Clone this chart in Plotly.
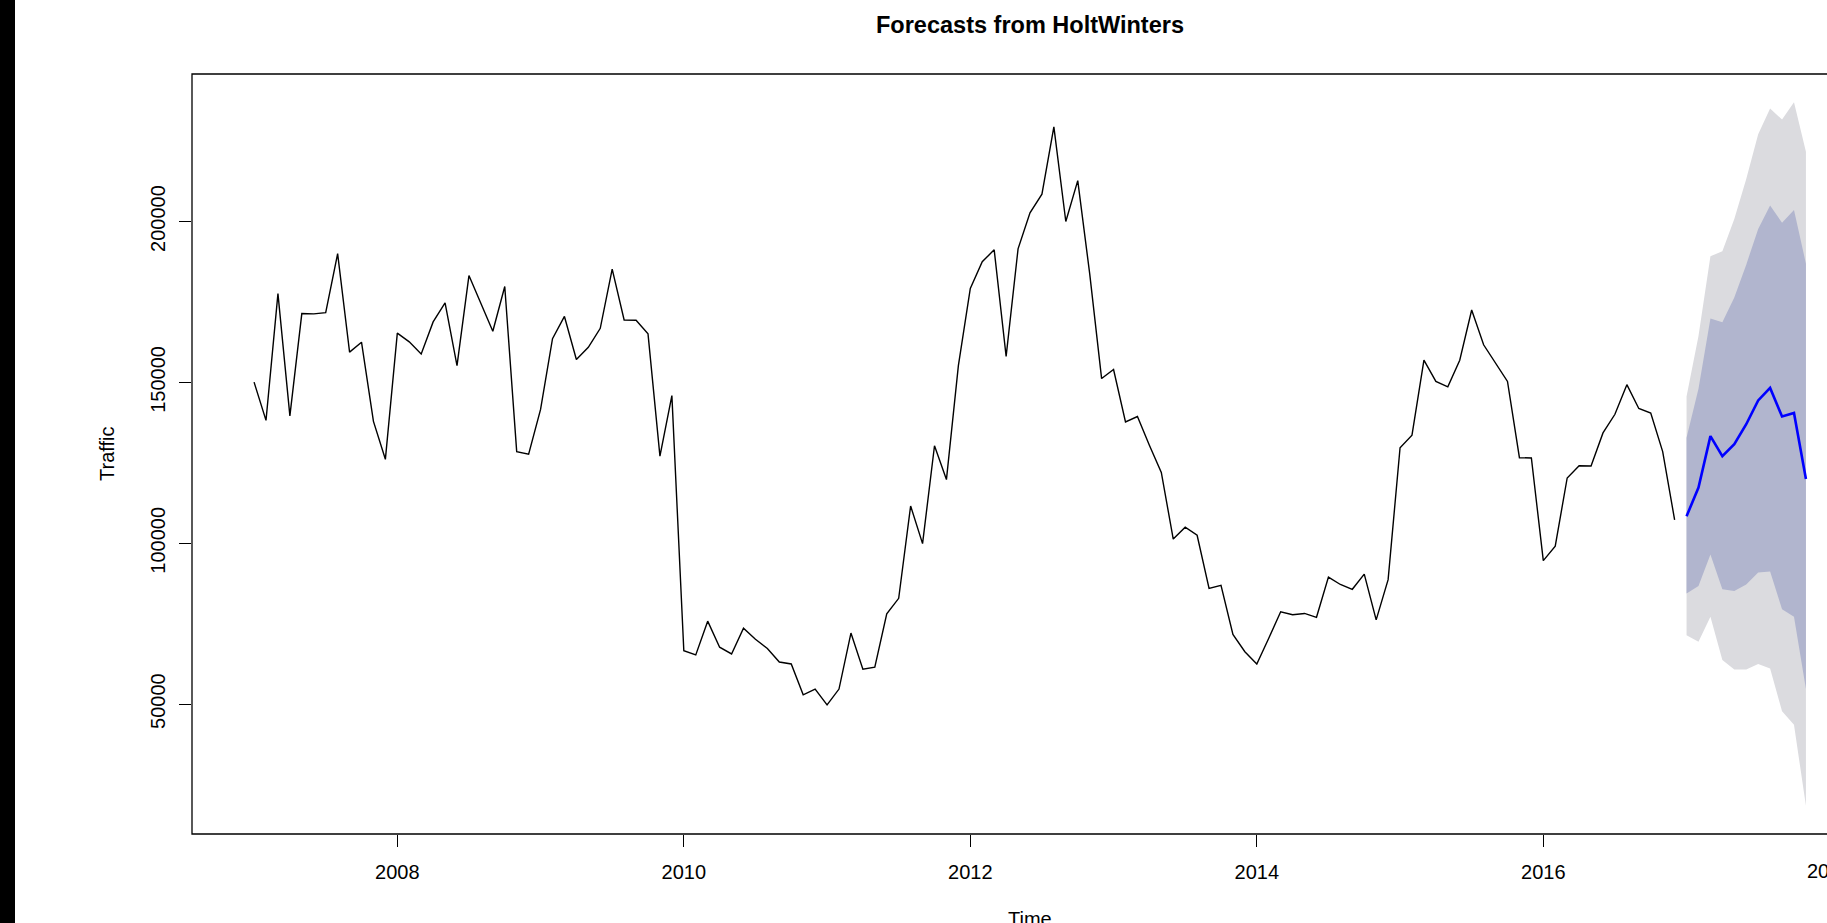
import plotly.graph_objects as go

# Monthly traffic, Jan 2007 - Dec 2016
start_year = 2007
traffic = [
    150100, 138200, 177600, 139600, 171400, 171300, 171700, 190000, 159400, 162500, 137900, 126100,
    165300, 162600, 158800, 168800, 174700, 155200, 183200, 174500, 165900, 179800, 128500, 127700,
    141600, 163600, 170500, 157100, 160900, 166800, 185200, 169400, 169300, 165100, 127100, 145900,
    66600, 65300, 75800, 67700, 65600, 73600, 70200, 67300, 63100, 62500, 52900, 54700,
    49800, 54700, 72100, 60900, 61500, 78100, 82900, 111600, 99900, 130300, 119800, 155200,
    179200, 187500, 191200, 158100, 191500, 202700, 208500, 229400, 200000, 212700, 183800, 151200,
    154000, 137700, 139400, 130500, 122000, 101300, 105000, 102500, 86000, 86900, 71700, 66300,
    62500, 70500, 78700, 77800, 78200, 77000, 89500, 87200, 85700, 90400, 76200, 88700,
    129700, 133600, 156900, 150300, 148600, 156900, 172500, 161700, 156000, 150300, 126600, 126500,
    94600, 99100, 120300, 124100, 124000, 134300, 140100, 149300, 141900, 140500, 128500, 107300,
]

# HoltWinters point forecasts and prediction intervals, Jan - Nov 2017
forecast_mean = [108400, 117300, 133300, 127100, 130800, 137000, 144400, 148300, 139400, 140500, 120000]
lower_80 = [84400, 86700, 96500, 85700, 85200, 87200, 90900, 91200, 79500, 77200, 54700]
upper_80 = [132800, 148000, 169900, 168700, 176400, 186600, 197700, 205000, 199600, 203600, 186900]
lower_95 = [71400, 69400, 77200, 63700, 60800, 60800, 62500, 61100, 47800, 43600, 18400]
upper_95 = [145600, 164400, 189200, 190800, 200800, 213200, 227100, 235100, 231700, 237100, 221700]

y_ticks = [50000, 100000, 150000, 200000]
x_ticks = [2008, 2010, 2012, 2014, 2016, 2018]

hist_x = [start_year + i / 12 for i in range(len(traffic))]
fc_x = [start_year + (len(traffic) + i) / 12 for i in range(len(forecast_mean))]

# Base-graphics style limits: data span padded by 4% on each side
x_lo, x_hi = hist_x[0], fc_x[-1]
x_pad = 0.04 * (x_hi - x_lo)
x_min, x_max = x_lo - x_pad, x_hi + x_pad
all_y = traffic + forecast_mean + lower_80 + upper_80 + lower_95 + upper_95
y_pad = 0.04 * (max(all_y) - min(all_y))
y_min, y_max = min(all_y) - y_pad, max(all_y) + y_pad

# Page geometry: the plotting frame runs past the right edge of the page
W, H = 1827, 923
left, top, bottom = 192, 74, 89
frame_right = 1868
plot_w = W - left
frame_w = frame_right - left
visible_max = x_min + (x_max - x_min) * plot_w / frame_w
frame_x1 = frame_w / plot_w

FONT = "Liberation Sans, Arial, Helvetica, sans-serif"

fig = go.Figure()

fig.add_trace(go.Scatter(
    x=fc_x + fc_x[::-1], y=upper_95 + lower_95[::-1],
    fill="toself", fillcolor="#DBDBDF", line=dict(width=0),
    mode="lines", hoverinfo="skip", showlegend=False,
))
fig.add_trace(go.Scatter(
    x=fc_x + fc_x[::-1], y=upper_80 + lower_80[::-1],
    fill="toself", fillcolor="#B1B5CE", line=dict(width=0),
    mode="lines", hoverinfo="skip", showlegend=False,
))
fig.add_trace(go.Scatter(
    x=hist_x, y=traffic, mode="lines",
    line=dict(color="#000000", width=1.4), showlegend=False,
))
fig.add_trace(go.Scatter(
    x=fc_x, y=forecast_mean, mode="lines",
    line=dict(color="#0000FF", width=2.6), showlegend=False,
))

# Box around the plotting region (its right side falls off the page)
fig.add_shape(type="rect", xref="paper", yref="paper",
              x0=0, x1=frame_x1, y0=0, y1=1,
              line=dict(color="#000000", width=1.3), layer="above")

# Dark strip along the left edge of the page
fig.add_shape(type="rect", xref="paper", yref="paper",
              x0=-left / plot_w, x1=(15 - left) / plot_w,
              y0=-bottom / (H - top - bottom) - 0.05, y1=1 + top / (H - top - bottom) + 0.05,
              fillcolor="#000000", line=dict(width=0), layer="above")

# Label for the tick that sits at the page edge
edge_tick = x_ticks[-1]
fig.add_annotation(
    xref="paper", yref="paper",
    x=(edge_tick - x_min) / (visible_max - x_min), y=0,
    yshift=-37, text=str(edge_tick), showarrow=False,
    xanchor="center", yanchor="middle",
    font=dict(family=FONT, size=20, color="#000000"),
)

# Axis titles
frame_center = 0.5 * frame_x1
fig.add_annotation(
    xref="paper", yref="paper", x=frame_center, y=0, yshift=-85,
    text="Time", showarrow=False, xanchor="center", yanchor="middle",
    font=dict(family=FONT, size=20, color="#000000"),
)
fig.add_annotation(
    xref="paper", yref="paper", x=0, y=0.5, xshift=-85,
    text="Traffic", textangle=-90, showarrow=False,
    xanchor="center", yanchor="middle",
    font=dict(family=FONT, size=20, color="#000000"),
)

fig.update_layout(
    width=W, height=H,
    margin=dict(l=left, r=0, t=top, b=bottom, pad=0),
    paper_bgcolor="#FFFFFF", plot_bgcolor="#FFFFFF",
    font=dict(family=FONT, size=20, color="#000000"),
    title=dict(
        text="<b>Forecasts from HoltWinters</b>",
        x=frame_center, xref="paper", xanchor="center",
        y=1 - 25 / H, yref="container", yanchor="middle",
        font=dict(family=FONT, size=23.5, color="#000000"),
    ),
    xaxis=dict(
        range=[x_min, visible_max], tickvals=x_ticks[:-1],
        ticktext=[str(t) for t in x_ticks[:-1]],
        ticks="outside", ticklen=12, tickwidth=1.2, tickcolor="#000000",
        showgrid=False, zeroline=False, showline=False,
        ticklabelstandoff=8,
        tickfont=dict(family=FONT, size=20, color="#000000"),
    ),
    yaxis=dict(
        range=[y_min, y_max], tickvals=y_ticks,
        ticktext=[str(t) for t in y_ticks],
        ticks="outside", ticklen=12, tickwidth=1.2, tickcolor="#000000",
        tickangle=-90,
        showgrid=False, zeroline=False, showline=False,
        ticklabelstandoff=6,
        tickfont=dict(family=FONT, size=20, color="#000000"),
    ),
)

fig.write_html("out.html")
